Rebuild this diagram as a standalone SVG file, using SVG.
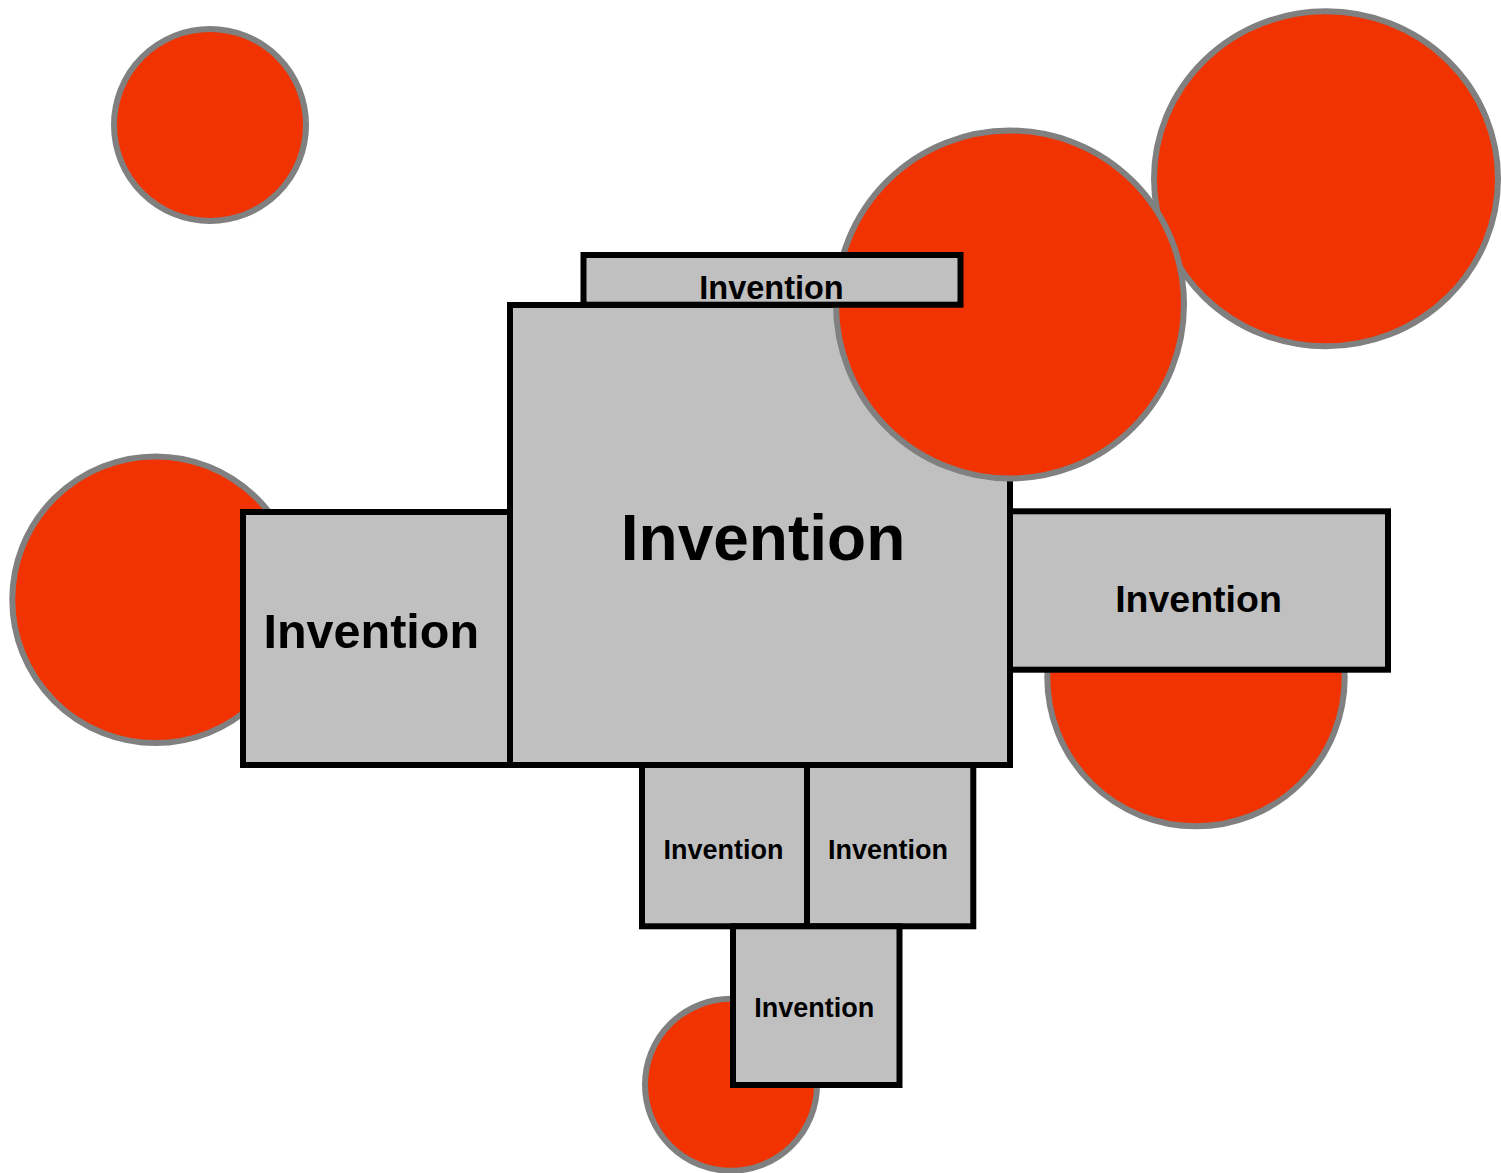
<svg xmlns="http://www.w3.org/2000/svg" width="1501" height="1173" viewBox="0 0 1501 1173">
<style>
.c{fill:#f03300;stroke:#808080;stroke-width:6}
.b{fill:#c0c0c0;stroke:#000;stroke-width:6}
.t{font-family:"Liberation Sans",Arial,sans-serif;font-weight:bold;fill:#000;text-anchor:middle}
</style>
<rect width="1501" height="1173" fill="#fff"/>
<g id="connectors"></g>
<g id="circle-topright"><ellipse class="c" cx="1326" cy="178.8" rx="172" ry="167.5"/></g>
<g id="main"><rect class="b" x="510" y="305" width="500" height="460"/><text class="t" x="763" y="560" font-size="64">Invention</text></g>
<g id="circle-mid"><circle class="c" cx="1010" cy="304.5" r="174"/></g>
<g id="top"><rect class="b" x="583.5" y="255" width="377" height="49.7"/><text class="t" x="771.5" y="299.3" font-size="32.5">Invention</text></g>
<g id="circle-left"><circle class="c" cx="155.6" cy="599.7" r="143.3"/></g>
<g id="left"><rect class="b" x="243" y="512" width="267" height="253"/><text class="t" x="371.3" y="648.3" font-size="48.5">Invention</text></g>
<g id="circle-right"><circle class="c" cx="1196" cy="677.6" r="148.7"/></g>
<g id="right"><rect class="b" x="1010" y="511.3" width="378" height="158.4"/><text class="t" x="1198.5" y="611.7" font-size="37.5">Invention</text></g>
<g id="boxA"><rect class="b" x="642" y="765" width="165" height="161.3"/><text class="t" x="723.4" y="859" font-size="27">Invention</text></g>
<g id="boxB"><rect class="b" x="807" y="765" width="166.3" height="161.3"/><text class="t" x="888" y="859" font-size="27">Invention</text></g>
<g id="circle-bottom"><circle class="c" cx="731" cy="1084.8" r="86"/></g>
<g id="boxC"><rect class="b" x="733" y="926.3" width="166.5" height="158.7"/><text class="t" x="814.2" y="1016.7" font-size="27">Invention</text></g>
<g id="circle-topleft"><circle class="c" cx="210" cy="125" r="96"/></g>
</svg>
